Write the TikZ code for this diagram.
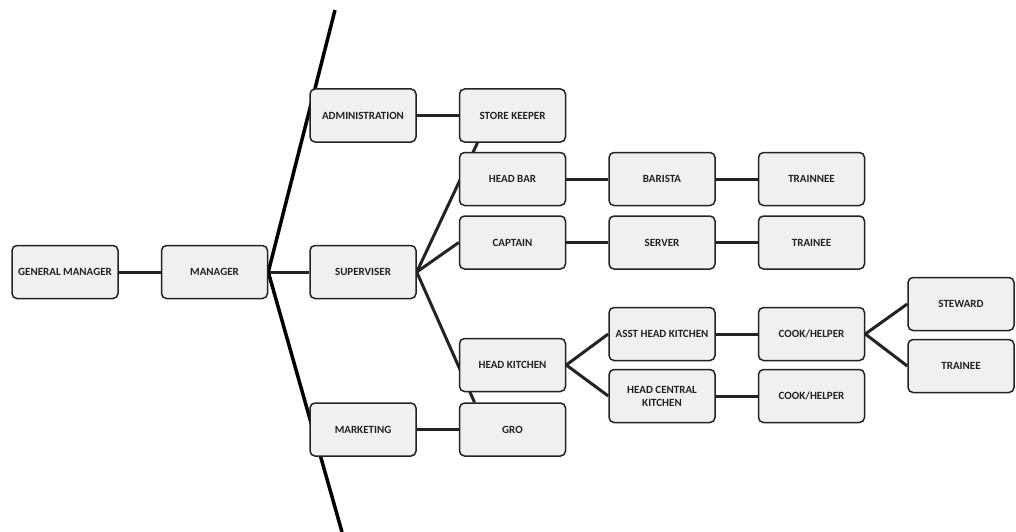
\documentclass[tikz,border=0pt]{standalone}
\usepackage{fontspec}
\setmainfont{Carlito}
\usepackage{tikz}
\usetikzlibrary{shapes,positioning,backgrounds}
\definecolor{boxgray}{RGB}{240, 240, 240}
\definecolor{ink}{RGB}{35, 35, 35}
\tikzstyle{box} = [rectangle, rounded corners=5pt, draw=ink, line width=1.5pt, fill=boxgray, text=ink, align=center, font=\bfseries\fontsize{11}{13}\selectfont, minimum width=106pt, minimum height=53pt, inner xsep=1pt]
\tikzstyle{link} = [draw=ink, line width=3pt]
\tikzstyle{trunk} = [draw=black, line width=3.5pt]

\begin{document}
\begin{tikzpicture}

\useasboundingbox (0,0) rectangle (1016pt,-532pt);

% management line =============================
\node[box] (gm) at (65pt,-272pt) {GENERAL MANAGER};
\node[box, right=42pt of gm] (mgr) {MANAGER};
\node[box, right=41pt of mgr] (sup) {SUPERVISER};
\node[box, above=102pt of sup] (adm) {ADMINISTRATION};
\node[box, below=103pt of sup] (mkt) {MARKETING};
\coordinate (top) at (335pt,-10pt);
\coordinate (bot) at (342pt,-532pt);

% second column
\node[box, right=42pt of adm] (sk) {STORE KEEPER};
\node[box, below=9pt of sk] (hb) {HEAD BAR};
\node[box, below=9pt of hb] (cap) {CAPTAIN};
\node[box, right=42pt of mkt] (gro) {GRO};
\node[box, above=10pt of gro] (hk) {HEAD KITCHEN};

% bar and service
\node[box, right=42pt of hb] (bar) {BARISTA};
\node[box, right=42pt of bar] (trn1) {TRAINNEE};
\node[box, right=42pt of cap] (srv) {SERVER};
\node[box, right=42pt of srv] (trn2) {TRAINEE};

% kitchen
\node[box, right=42pt of hk, yshift=31pt] (ahk) {ASST HEAD KITCHEN};
\node[box, right=42pt of hk, yshift=-31pt] (hck) {HEAD CENTRAL\\KITCHEN};
\node[box, right=42pt of ahk] (cook1) {COOK/HELPER};
\node[box, right=42pt of hck] (cook2) {COOK/HELPER};
\node[box, right=42pt of cook1, yshift=30pt] (stw) {STEWARD};
\node[box, right=42pt of cook1, yshift=-32pt] (trn3) {TRAINEE};


% edges
\begin{scope}[on background layer]
\path[link] (gm) edge (mgr);
\path[link] (mgr) edge (sup);
\path[trunk] (mgr.east) edge (top);
\path[trunk] (mgr.east) edge (bot);
\path[link] (adm) edge (sk);
\path[link] (mkt) edge (gro);

\path[link] (sup.east) edge ([xshift=-35pt]sk.south);
\path[link] (sup.east) edge (cap.west);
\path[link] (sup.east) edge ([xshift=-38pt]gro.north);

\path[link] (hb) edge (bar);
\path[link] (bar) edge (trn1);
\path[link] (cap) edge (srv);
\path[link] (srv) edge (trn2);

\path[link] (hk.east) edge (ahk.west);
\path[link] (hk.east) edge (hck.west);
\path[link] (ahk) edge (cook1);
\path[link] (hck) edge (cook2);
\path[link] (cook1.east) edge (stw.west);
\path[link] (cook1.east) edge (trn3.west);
\end{scope}

\end{tikzpicture}
\end{document}
